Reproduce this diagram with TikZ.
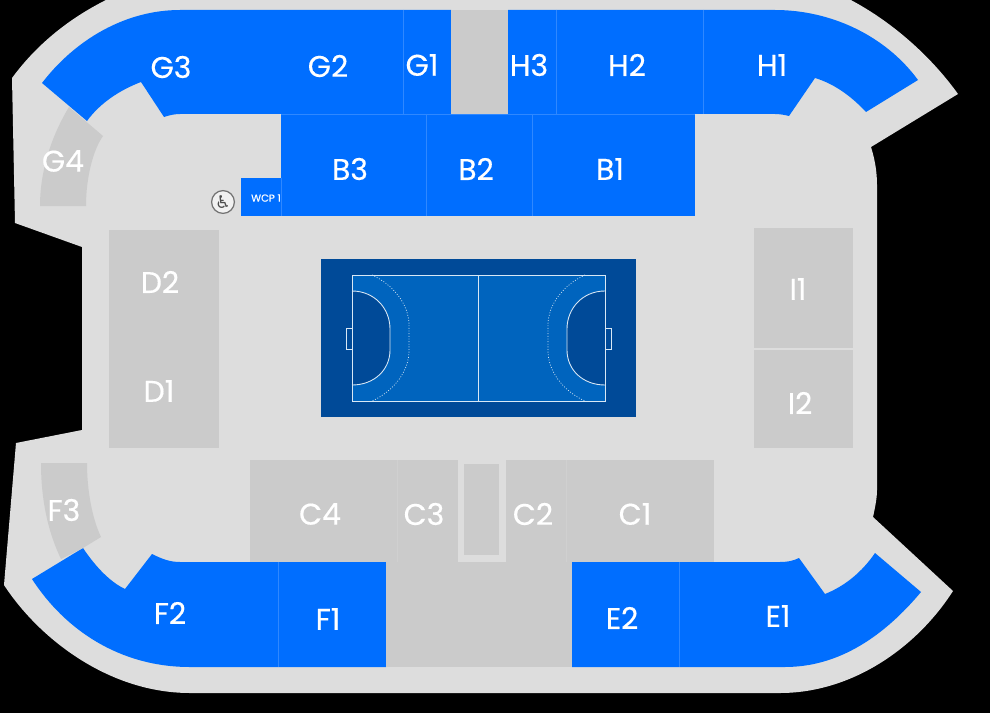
\documentclass[tikz,border=0pt]{standalone}
\usepackage{fontspec}
\setmainfont{Poppins}
\newfontfamily\labelfont[FakeBold=0.35]{Poppins}
\newfontfamily\symbolfont{DejaVu Sans}
\definecolor{hallgrey}{HTML}{DDDDDD}
\definecolor{closedgrey}{HTML}{CBCBCB}
\definecolor{openblue}{HTML}{006EFF}
\definecolor{linesblue}{HTML}{2F88FF}
\definecolor{courtdark}{HTML}{004A98}
\definecolor{courtmid}{HTML}{0064BE}
\tikzset{
    hall/.style={fill=hallgrey},
    opensec/.style={fill=openblue},
    closedsec/.style={fill=closedgrey},
    divider/.style={draw=linesblue, line width=0.3pt},
    faintline/.style={draw=hallgrey!30!closedgrey, line width=0.3pt},
    courtline/.style={draw=white!85!courtmid, line width=0.5pt},
    seclabel/.style={text=white, font=\labelfont\fontsize{17}{17}\selectfont, inner sep=0pt}
}

\begin{document}
\begin{tikzpicture}[x=0.02cm, y=-0.02cm]
                \useasboundingbox (0,0) rectangle (990,713);
                \fill[black] (0,0) rectangle (990,713);
                \clip (0,0) rectangle (990,713);
                \path[hall] (12,78) .. controls (40,40) and (75,15) .. (110,-2) -- (847,-2)
                    .. controls (890,20) and (930,55) .. (958,94) -- (871,147)
                    .. controls (875,160) and (877,172) .. (877,185) -- (877,490)
                    .. controls (877,498) and (875,508) .. (873,517) -- (953,591)
                    .. controls (915,650) and (850,693) .. (780,693) -- (190,693)
                    .. controls (110,693) and (40,640) .. (4,585) -- (16,443) -- (82,430)
                    -- (82,247) -- (15,223) -- cycle;
                \path[opensec] (42,83) .. controls (75,40) and (125,10) .. (180,10) -- (451,10) -- (451,114) -- (180,114)
                    .. controls (175,114) and (170,115) .. (164,117) -- (141,82)
                    .. controls (120,90) and (100,103) .. (87,121) -- cycle;
                \path[opensec] (508,10) -- (775,10) .. controls (830,10) and (885,35) .. (918,80) -- (866,112)
                    .. controls (852,97) and (835,84) .. (815,78) -- (789,116)
                    .. controls (785,115) and (780,114) .. (775,114) -- (508,114) -- cycle;
                \path[opensec] (32,579) .. controls (65,630) and (120,667) .. (190,667) -- (386,667) -- (386,562) -- (180,562)
                    .. controls (170,562) and (162,559) .. (152,554) -- (125,589)
                    .. controls (108,581) and (93,563) .. (83,548) -- cycle;
                \path[opensec] (572,562) -- (780,562) .. controls (787,562) and (793,561) .. (799,558) -- (825,594)
                    .. controls (845,586) and (862,572) .. (875,553) -- (921,592)
                    .. controls (885,635) and (840,667) .. (785,667) -- (572,667) -- cycle;
                \path[opensec] (281,114) rectangle (695,216);
                \path[opensec] (241,178) rectangle (281,216);
                \path[closedsec] (451,10) rectangle (508,114);
                \path[closedsec] (40,206) .. controls (40,170) and (52,135) .. (69,107) -- (103,136)
                    .. controls (93,150) and (86,178) .. (86,206) -- cycle;
                \path[closedsec] (41,463) -- (87,463) .. controls (87,490) and (92,518) .. (101,537) -- (83,548) -- (61,559)
                    .. controls (48,532) and (41,500) .. (41,463) -- cycle;
                \path[closedsec] (109,230) rectangle (219,448);
                \path[closedsec] (754,228) rectangle (853,448);
                \path[closedsec] (250,460) rectangle (714,562);
                \path[closedsec] (386,562) rectangle (572,667);
                \path[hall] (458,460) rectangle (506,562);
                \path[closedsec] (464,464) rectangle (499,555);
                \foreach \x in {403,556,703} {
                    \draw[divider] (\x,10) -- (\x,114);
                }
                \foreach \x in {426,532} {
                    \draw[divider] (\x,114) -- (\x,216);
                }
                \draw[divider] (281,178) -- (281,216);
                \draw[divider] (278,562) -- (278,667);
                \draw[divider] (679,562) -- (679,667);
                \draw[divider] (281,114) -- (695,114);
                \draw[faintline] (397,460) -- (397,562);
                \draw[faintline] (566,460) -- (566,562);
                \draw[draw=hallgrey, line width=0.6pt] (754,349) -- (853,349);
                \fill[courtdark] (321,259) rectangle (636,417);
                \fill[courtmid] (352,275) rectangle (605,401);
                \foreach \side/\sgn in {352/1,605/-1} {
                    \path[fill=courtdark, courtline] (\side,291) .. controls ({\side+\sgn*22},291) and ({\side+\sgn*38},308) .. ({\side+\sgn*38},329)
                        -- ({\side+\sgn*38},350) .. controls ({\side+\sgn*38},370) and ({\side+\sgn*22},385) .. (\side,385);
                    \draw[courtline, densely dotted, line width=0.4pt] ({\side+\sgn*20},275) .. controls ({\side+\sgn*42},285) and ({\side+\sgn*57},305) .. ({\side+\sgn*57},325)
                        -- ({\side+\sgn*57},351) .. controls ({\side+\sgn*57},371) and ({\side+\sgn*42},391) .. ({\side+\sgn*20},401);
                    \draw[courtline] (\side,328) -- ({\side-\sgn*6},328) -- ({\side-\sgn*6},349) -- (\side,349);
                }
                \draw[courtline] (352,275) rectangle (605,401);
                \draw[courtline] (478,275) -- (478,401);
                \foreach \name/\x/\y in {G3/171/67,G2/328/66,G1/422/65,H3/529/65,H2/627/65,H1/772/65,G4/63/161,B3/350/169,B2/476/169,B1/610/169,
                    D2/160/282,D1/159/391,I1/798/289,I2/800/403,C4/320/514,C3/424/514,C2/533/514,C1/635/514,F3/64/510,F2/170/613,F1/328/619,E2/622/618,E1/778/616} {
                    \node[seclabel] (lab\name) at (\x,\y) {\name};
                }
                \node[text=white, font=\labelfont\fontsize{5.8}{5.8}\selectfont, inner sep=0pt] (labWCP) at (266,198) {WCP 1};
                \node[circle, draw=black!55, fill=hallgrey!40!white, line width=0.7pt, minimum size=13pt, inner sep=0pt, font=\symbolfont\fontsize{10}{10}\selectfont, text=black!70] (wheelchair) at (223,202) {♿};
            \end{tikzpicture}
\end{document}
